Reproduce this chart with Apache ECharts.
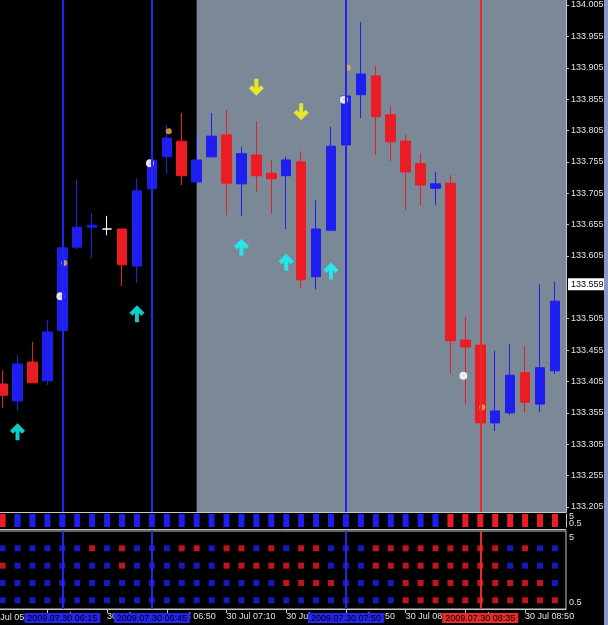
<!DOCTYPE html>
<html>
<head>
<meta charset="utf-8">
<script src="https://cdn.jsdelivr.net/npm/echarts@6/dist/echarts.min.js"></script>
<style>
html, body { margin: 0; padding: 0; background: #000; }
#chart { width: 604px; height: 625px; border-right: 4px solid #8a98c6; }
</style>
</head>
<body>
<div id="chart"></div>
<script>
// M5 bars, 30 Jul 2009
const times = ['05:55', '06:00', '06:05', '06:10', '06:15', '06:20', '06:25', '06:30', '06:35', '06:40',
  '06:45', '06:50', '06:55', '07:00', '07:05', '07:10', '07:15', '07:20', '07:25', '07:30',
  '07:35', '07:40', '07:45', '07:50', '07:55', '08:00', '08:05', '08:10', '08:15', '08:20',
  '08:25', '08:30', '08:35', '08:40', '08:45', '08:50', '08:55', '09:00'];

const opens = [133.401, 133.374, 133.436, 133.406, 133.486, 133.619, 133.651, 133.648, 133.648, 133.589,
  133.712, 133.763, 133.788, 133.723, 133.763, 133.798, 133.720, 133.766, 133.737, 133.733,
  133.755, 133.572, 133.646, 133.782, 133.862, 133.892, 133.830, 133.788, 133.752, 133.713,
  133.721, 133.471, 133.463, 133.339, 133.355, 133.419, 133.369, 133.422];
const closes = [133.383, 133.433, 133.403, 133.484, 133.618, 133.651, 133.654, 133.648, 133.591, 133.709,
  133.758, 133.793, 133.733, 133.758, 133.796, 133.721, 133.768, 133.733, 133.728, 133.758,
  133.567, 133.648, 133.780, 133.860, 133.895, 133.827, 133.787, 133.739, 133.718, 133.720,
  133.470, 133.460, 133.339, 133.358, 133.415, 133.372, 133.427, 133.533];
const lows = [133.363, 133.358, 133.403, 133.399, 133.482, 133.616, 133.602, 133.638, 133.557, 133.562,
  133.710, 133.736, 133.718, 133.721, 133.763, 133.670, 133.669, 133.707, 133.672, 133.648,
  133.554, 133.552, 133.646, 133.780, 133.825, 133.766, 133.756, 133.678, 133.686, 133.686,
  133.417, 133.368, 133.337, 133.326, 133.352, 133.356, 133.356, 133.417];
const highs = [133.423, 133.447, 133.468, 133.503, 133.621, 133.726, 133.674, 133.669, 133.648, 133.729,
  133.761, 133.814, 133.833, 133.796, 133.833, 133.838, 133.779, 133.820, 133.758, 133.763,
  133.772, 133.694, 133.811, 133.862, 133.978, 133.908, 133.844, 133.798, 133.769, 133.739,
  133.734, 133.508, 133.463, 133.454, 133.465, 133.462, 133.560, 133.564];

const priceTicks = [133.205, 133.255, 133.305, 133.355, 133.405, 133.455, 133.505, 133.605,
  133.655, 133.705, 133.755, 133.805, 133.855, 133.905, 133.955, 134.005];
const currentPrice = 133.559;

// arrows: [bar index, price]
const upArrows = [[1, 133.325], [9, 133.513], [16, 133.619], [19, 133.595], [22, 133.581]];
const downArrows = [[17, 133.874], [20, 133.835]];
const orangeMarks = [[4, 133.594], [11, 133.804], [23, 133.905], [32, 133.364]];
const whiteMarks = [[4, 133.541], [10, 133.753], [23, 133.854], [31, 133.414]];

// 1 = up (blue), -1 = down (red)
const stripDir = [-1, 1, 1, 1, 1, 1, 1, 1, 1, 1, 1, 1, 1, 1, 1, 1, 1, 1, 1, 1,
  1, 1, 1, 1, 1, 1, 1, 1, 1, 1, -1, -1, -1, -1, -1, -1, -1, -1];
const row1 = [1, 1, 1, 1, 1, 1, -1, 1, -1, 1, 1, 1, -1, -1, 1, -1, -1, 1, -1, 1,
  -1, -1, 1, 1, 1, -1, -1, -1, -1, -1, -1, -1, -1, -1, 1, -1, 1, 1];
const row2 = [-1, 1, 1, 1, 1, 1, 1, 1, -1, 1, 1, 1, 1, 1, 1, -1, -1, -1, -1, -1,
  -1, -1, 1, 1, 1, -1, -1, -1, -1, -1, -1, -1, -1, -1, 1, 1, 1, 1];
const row3 = [1, 1, 1, 1, 1, 1, 1, 1, 1, 1, 1, 1, 1, 1, 1, 1, 1, 1, 1, -1,
  -1, -1, -1, 1, 1, 1, 1, -1, -1, -1, -1, -1, -1, -1, -1, -1, -1, 1];
const row4 = [1, 1, 1, 1, 1, 1, 1, 1, 1, 1, 1, 1, 1, 1, 1, 1, 1, 1, 1, 1,
  1, 1, 1, 1, 1, 1, 1, -1, -1, -1, -1, -1, -1, -1, -1, -1, -1, -1];

const timeTicks = [3, 7, 11, 15, 19, 23, 27, 31, 35];
const vLines = [
  { idx: 4, color: '#2424ec' },
  { idx: 10, color: '#2424ec' },
  { idx: 23, color: '#2424ec' },
  { idx: 32, color: '#e82a2a' },
];

const BLUE = '#1e1ef0';
const RED = '#ec1c24';
const LINE = '#c8c8c8';
const TXT = '#e4e4e4';
const FONT = 'Liberation Sans';
const X_MIN = -0.24, X_MAX = 37.74;
const P_MIN = 133.19703, P_MAX = 134.01297;

const UP_PATH = 'path://M7.5,0 L15,7.5 L12,10.5 L9.5,8 L9.5,17 L5.5,17 L5.5,8 L3,10.5 L0,7.5 Z';
const DOWN_PATH = 'path://M7.5,17 L15,9.5 L12,6.5 L9.5,9 L9.5,0 L5.5,0 L5.5,9 L3,6.5 L0,9.5 Z';

const candleData = opens.map((o, i) => [i, o, closes[i], lows[i], highs[i]]);
const dirColor = d => (d > 0 ? BLUE : RED);
const dotData = [];
[row1, row2, row3, row4].forEach((row, r) => {
  row.forEach((d, i) => dotData.push({ value: [i, 4 - r], itemStyle: { color: dirColor(d) } }));
});
const stripData = stripDir.map((d, i) => ({ value: [i, 5], itemStyle: { color: dirColor(d) } }));

const xBase = {
  type: 'value', min: X_MIN, max: X_MAX,
  splitLine: { show: false }, axisLabel: { show: false }, axisTick: { show: false },
};
// shifts the "5" label down and the "0.5" label up, as the terminal does
const panelLabel = (values, top, bottom) => ({
  show: true, customValues: values, showMinLabel: true, showMaxLabel: true,
  color: TXT, fontSize: 9, fontFamily: FONT, margin: 3,
  formatter: v => (v === 5 ? '{t|5}' : '{b|0.5}'),
  rich: { t: { padding: [top, 0, 0, 0] }, b: { padding: [0, 0, bottom, 0] } },
});
const panelY = (grid, values, top, bottom, line) => ({
  gridIndex: grid, type: 'value', position: 'right', min: 0.5, max: 5,
  splitLine: { show: false },
  axisLine: { show: line, onZero: false, lineStyle: { color: LINE } },
  axisTick: { show: false },
  axisLabel: panelLabel(values, top, bottom),
});
const gridBase = { left: -1, width: 567, outerBoundsMode: 'none', containLabel: false };

const chart = echarts.init(document.getElementById('chart'));
const option = {
  animation: false,
  backgroundColor: '#000',
  grid: [
    Object.assign({}, gridBase, { top: 0, height: 512 }),
    Object.assign({}, gridBase, { top: 514, height: 13 }),
    Object.assign({}, gridBase, { top: 531, height: 78, show: true, borderColor: LINE, borderWidth: 1 }),
  ],
  xAxis: [
    Object.assign({}, xBase, { gridIndex: 0, axisLine: { show: true, onZero: false, lineStyle: { color: LINE } } }),
    Object.assign({}, xBase, { gridIndex: 1, offset: 2, axisLine: { show: true, onZero: false, lineStyle: { color: LINE } } }),
    Object.assign({}, xBase, {
      gridIndex: 2,
      axisLine: { show: true, onZero: false, lineStyle: { color: LINE } },
      axisTick: { show: true, customValues: timeTicks, length: 4, lineStyle: { color: LINE } },
      axisLabel: {
        show: true, customValues: timeTicks, align: 'left', margin: 3,
        color: TXT, fontSize: 9, fontFamily: FONT,
        formatter: v => '30 Jul ' + times[Math.round(v)],
      },
    }),
  ],
  yAxis: [
    {
      gridIndex: 0, type: 'value', position: 'right', min: P_MIN, max: P_MAX,
      splitLine: { show: false },
      axisLine: { show: true, onZero: false, lineStyle: { color: LINE } },
      axisTick: { show: true, customValues: priceTicks, length: 3, lineStyle: { color: LINE } },
      axisLabel: {
        customValues: priceTicks, color: TXT, fontSize: 9, fontFamily: FONT, margin: 5,
        formatter: v => v.toFixed(3),
      },
    },
    panelY(1, [5], 6, 6, true),
    panelY(2, [5, 0.5], 14, 12, false),
    panelY(1, [0.5], 6, 6, false),
  ],
  series: [
    {
      type: 'candlestick',
      xAxisIndex: 0, yAxisIndex: 0,
      data: candleData,
      barWidth: 10,
      itemStyle: {
        color: BLUE, color0: RED, borderColor: BLUE, borderColor0: RED,
        borderColorDoji: '#ffffff', borderWidth: 1,
      },
      markArea: {
        silent: true,
        itemStyle: { color: '#7a8898' },
        data: [[{ xAxis: 13 }, { xAxis: X_MAX }]],
      },
      markLine: {
        silent: true,
        symbol: ['none', 'none'],
        data: vLines.map(l => ({
          xAxis: l.idx, lineStyle: { color: l.color, width: 2, type: 'solid' }, label: { show: false },
        })).concat([{
          yAxis: currentPrice,
          lineStyle: { width: 0 },
          label: {
            show: true, position: 'end', distance: 2, formatter: currentPrice.toFixed(3),
            backgroundColor: '#ffffff', color: '#000', padding: [2, 3, 1, 3],
            fontSize: 9, fontFamily: FONT,
          },
        }]),
      },
    },
    {
      type: 'scatter', xAxisIndex: 0, yAxisIndex: 0, z: 4,
      symbol: UP_PATH, symbolSize: [15, 17],
      itemStyle: { color: '#10ffff' },
      data: upArrows,
    },
    {
      type: 'scatter', xAxisIndex: 0, yAxisIndex: 0, z: 4,
      symbol: DOWN_PATH, symbolSize: [15, 17],
      itemStyle: { color: '#ffff10' },
      data: downArrows,
    },
    {
      type: 'scatter', xAxisIndex: 0, yAxisIndex: 0, z: 4,
      symbol: 'circle', symbolSize: 6, symbolOffset: [2, 0],
      itemStyle: { color: '#f0b050' },
      data: orangeMarks,
    },
    {
      type: 'scatter', xAxisIndex: 0, yAxisIndex: 0, z: 4,
      symbol: 'emptyCircle', symbolSize: 6, symbolOffset: [-2, 0],
      itemStyle: { color: '#ffffff', borderColor: '#ffffff', borderWidth: 1.5 },
      data: whiteMarks,
    },
    {
      type: 'bar', xAxisIndex: 1, yAxisIndex: 1,
      barWidth: 6,
      data: stripData,
    },
    {
      type: 'scatter', xAxisIndex: 2, yAxisIndex: 2,
      symbol: 'rect', symbolSize: 6,
      data: dotData,
      markLine: {
        silent: true,
        symbol: ['none', 'none'],
        data: vLines.map(l => ({
          xAxis: l.idx,
          lineStyle: { color: l.color, width: 2, type: 'solid' },
          label: {
            show: true, position: 'start', distance: 4,
            formatter: '2009.07.30 ' + times[l.idx],
            backgroundColor: l.color, color: '#000', padding: [1, 3, 0, 3],
            fontSize: 9, fontFamily: FONT,
          },
        })),
      },
    },
  ],
};
chart.setOption(option);

// label of the bar just before the first visible one (off the left edge)
const prevX = chart.convertToPixel({ xAxisIndex: 2 }, -1);
chart.setOption({
  graphic: [{
    type: 'text', x: prevX, y: 613, z: 0,
    style: { text: '30 Jul 05:50', fill: TXT, fontSize: 9, fontFamily: FONT },
  }],
});
</script>
</body>
</html>
